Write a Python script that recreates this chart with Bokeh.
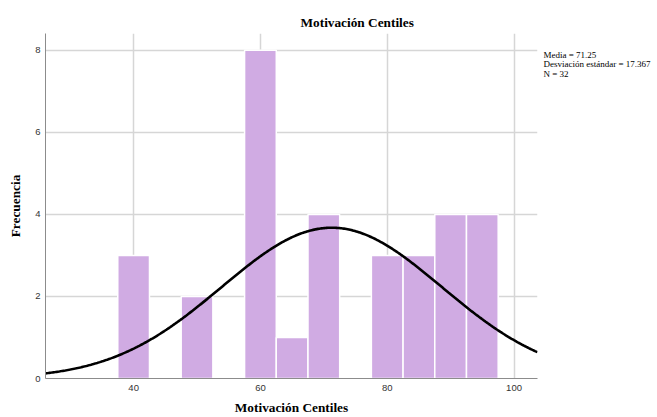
import numpy as np
from bokeh.plotting import figure
from bokeh.models import Range1d, FixedTicker, Label
from bokeh.embed import file_html
from bokeh.resources import INLINE

# Histogram of "Motivación Centiles" (bins of width 5)
bin_centers = [40, 50, 60, 65, 70, 80, 85, 90, 95]
frequencies = [3, 2, 8, 1, 4, 3, 3, 4, 4]
bin_width = 5

# Summary statistics
mean = 71.25
std_dev = 17.367
n_obs = 32

x_ticks = [40, 60, 80, 100]
y_ticks = [0, 2, 4, 6, 8]

SERIF = "Liberation Serif"
SANS = "Liberation Sans"

x_lo, x_hi = 26.1, 103.7
y_lo, y_hi = 0, 8.41

p = figure(
    width=657, height=417,
    x_range=Range1d(x_lo, x_hi), y_range=Range1d(y_lo, y_hi),
    output_backend="svg", toolbar_location=None,
    min_border_left=45, min_border_right=120,
    min_border_top=33, min_border_bottom=38,
    background_fill_color="white", border_fill_color="white",
)
p.outline_line_color = None

# Title
p.title.text = "Motivación Centiles"
p.title.text_font = SERIF
p.title.text_font_size = "13.3px"
p.title.text_font_style = "bold"
p.title.text_color = "black"
p.title.align = "left"
p.title.offset = 255
p.title.standoff = 7

# Axes
for ax in (p.xaxis[0], p.yaxis[0]):
    ax.axis_line_color = "#8c8c8c"
    ax.axis_line_width = 1
    ax.major_tick_line_color = None
    ax.minor_tick_line_color = None
    ax.major_tick_out = 0
    ax.major_tick_in = 0
    ax.major_label_text_font = SANS
    ax.major_label_text_font_size = "9.5px"
    ax.major_label_text_color = "#333333"
    ax.axis_label_text_font = SERIF
    ax.axis_label_text_font_size = "13.3px"
    ax.axis_label_text_font_style = "bold"
    ax.axis_label_text_color = "black"

p.xaxis.ticker = FixedTicker(ticks=x_ticks)
p.yaxis.ticker = FixedTicker(ticks=y_ticks)
p.xaxis.axis_label = "Motivación Centiles"
p.yaxis.axis_label = "Frecuencia"
p.xaxis.major_label_standoff = 6
p.yaxis.major_label_standoff = 5
p.xaxis.axis_label_standoff = 6
p.yaxis.axis_label_standoff = 9

# Grid
p.xgrid.ticker = FixedTicker(ticks=x_ticks)
p.ygrid.ticker = FixedTicker(ticks=y_ticks)
for g in (p.xgrid[0], p.ygrid[0]):
    g.grid_line_color = "#d6d6d6"
    g.grid_line_width = 1.5

# Bars
lefts = [c - bin_width / 2 for c in bin_centers]
rights = [c + bin_width / 2 for c in bin_centers]
p.quad(left=lefts, right=rights, bottom=0, top=frequencies,
       fill_color="#d0abe3", line_color="white", line_width=1.5)

# Normal curve scaled to counts
xs = np.linspace(x_lo, x_hi, 400)
ys = n_obs * bin_width / (std_dev * np.sqrt(2 * np.pi)) * np.exp(-0.5 * ((xs - mean) / std_dev) ** 2)
p.line(xs, ys, line_color="black", line_width=2.6)

# Statistics block in the right-hand panel
stats = [f"Media = {mean}", f"Desviación estándar = {std_dev}", f"N = {n_obs}"]
p.add_layout(Label(
    x=6, y=346 - 17,
    x_units="screen", y_units="screen",
    text="\n".join(stats), text_font=SERIF, text_font_size="9px",
    text_line_height=0.95,
    text_color="black", text_baseline="top", text_align="left",
), "right")

open("out.html", "w").write(file_html(p, INLINE))
